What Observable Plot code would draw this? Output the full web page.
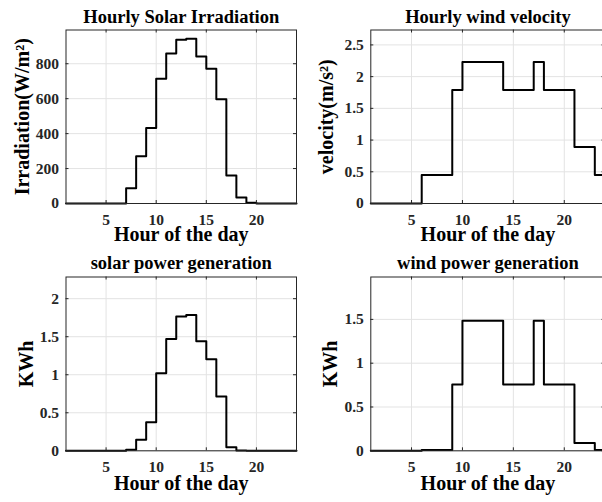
<!DOCTYPE html>
<html><head><meta charset="utf-8">
<script src="https://cdn.jsdelivr.net/npm/d3@7"></script>
<script src="https://cdn.jsdelivr.net/npm/@observablehq/plot@0.6"></script>
<style>
body{margin:0;background:#fff;}
#wrap{position:relative;width:602px;height:502px;overflow:hidden;background:#fff;}
#wrap svg{position:absolute;}
#wrap svg text{font-family:'Liberation Serif','Times New Roman',serif;font-weight:bold;}
</style></head><body><div id="wrap"></div>
<script>
const hours = [1,2,3,4,5,6,7,8,9,10,11,12,13,14,15,16,17,18,19,20,21,22,23,24];
const irradiation = [0,0,0,0,0,0,87,270,432,714,859,937,943,842,771,596,160,34,4,0,0,0,0,0];
const windVelocity = [0,0,0,0,0,0.45,0.45,0.45,1.79,2.23,2.23,2.23,2.23,1.79,1.79,1.79,2.23,1.79,1.79,1.79,0.89,0.89,0.45,0.45];
const solarPower = [0,0,0,0,0,0,0.015,0.145,0.376,1.02,1.47,1.767,1.785,1.44,1.205,0.714,0.047,0.005,0,0,0,0,0,0];
const windPower = [0,0,0,0,0,0.01,0.01,0.01,0.757,1.484,1.484,1.484,1.484,0.757,0.757,0.757,1.484,0.757,0.757,0.757,0.09,0.09,0.01,0.01];

const xTicks = [5,10,15,20];
const yTicksIrr = [0,200,400,600,800];
const yTicksVel = [0,0.5,1,1.5,2,2.5];
const yTicksSolar = [0,0.5,1,1.5,2];
const yTicksWind = [0,0.5,1,1.5];

const titles = ["Hourly Solar Irradiation","Hourly wind velocity","solar power generation","wind power generation"];
const yLabels = ["Irradiation(W/m\u00B2)","velocity(m/s\u00B2)","KWh","KWh"];
const xLabel = "Hour of the day";

const font = "'Liberation Serif','Times New Roman',serif";
const wrap = document.getElementById("wrap");

function panel(o) {
  const data = hours.map((h, i) => ({h, v: o.values[i]}));
  const fw = o.width - o.mL - o.mR, fh = o.height - o.mT - o.mB;
  const gridStroke = "#e3e3e3";
  const chart = Plot.plot({
    width: o.width, height: o.height,
    marginLeft: o.mL, marginRight: o.mR, marginTop: o.mT, marginBottom: o.mB,
    style: {fontFamily: font, fontWeight: "bold", background: "transparent", overflow: "visible"},
    x: {domain: [1, 24]},
    y: {domain: o.yDomain},
    marks: [
      Plot.ruleX(xTicks, {stroke: gridStroke}),
      Plot.ruleY(o.yTicks, {stroke: gridStroke}),
      Plot.line(data, {x: "h", y: "v", curve: "step-after", stroke: "black", strokeWidth: 2}),
      Plot.tickX(xTicks, {x: d => d, insetTop: fh - 3, stroke: "#262626"}),
      Plot.tickX(xTicks, {x: d => d, insetBottom: fh - 3, stroke: "#262626"}),
      Plot.tickY(o.yTicks, {y: d => d, insetRight: fw - 3, stroke: "#262626"}),
      Plot.tickY(o.yTicks, {y: d => d, insetLeft: fw - 3, stroke: "#262626"}),
      Plot.frame({stroke: "#262626"}),
      Plot.axisX(xTicks, {tickSize: 0, tickPadding: 10.5, fontSize: 15.5, fontFamily: font, fontWeight: "bold", color: "#262626", label: null}),
      Plot.axisY(o.yTicks, {tickSize: 0, tickPadding: 7, fontSize: 15.5, fontFamily: font, fontWeight: "bold", color: "#262626", label: null, tickFormat: d => String(d)}),
      Plot.text([o.title], {text: d => d, frameAnchor: "top", textAnchor: "middle", lineAnchor: "middle", dy: o.titleDy, fontSize: 18.5, fontFamily: font, fill: "black", fontWeight: "bold"}),
      Plot.text([xLabel], {text: d => d, frameAnchor: "bottom", textAnchor: "middle", lineAnchor: "middle", dy: o.xlabDy, fontSize: 20, fontFamily: font, fill: "black", fontWeight: "bold"}),
      Plot.text([o.ylabel], {text: d => d, frameAnchor: "left", textAnchor: "middle", lineAnchor: "middle", rotate: -90, dx: o.ylabDx, fontSize: 20, fontFamily: font, fill: "black", fontWeight: "bold"})
    ]
  });
  chart.style.left = o.left + "px";
  chart.style.top = o.top + "px";
  chart.style.maxWidth = "none";
  wrap.appendChild(chart);
}

panel({values: irradiation, yDomain: [0, 993], yTicks: yTicksIrr, title: titles[0], ylabel: yLabels[0],
  left: 0, top: 0, width: 301, height: 250, mL: 65.5, mR: 5, mT: 29.5, mB: 47,
  titleDy: -12.7, xlabDy: 30.6, ylabDx: -43.5});
panel({values: windVelocity, yDomain: [0, 2.735], yTicks: yTicksVel, title: titles[1], ylabel: yLabels[1],
  left: 301, top: 0, width: 320, height: 250, mL: 69.3, mR: 16.5, mT: 29.5, mB: 47,
  titleDy: -12.7, xlabDy: 30.6, ylabDx: -44.7});
panel({values: solarPower, yDomain: [0, 2.285], yTicks: yTicksSolar, title: titles[2], ylabel: yLabels[2],
  left: 0, top: 250, width: 301, height: 252, mL: 65.5, mR: 5, mT: 26.5, mB: 51.7,
  titleDy: -14.1, xlabDy: 32.6, ylabDx: -39.9});
panel({values: windPower, yDomain: [0, 1.984], yTicks: yTicksWind, title: titles[3], ylabel: yLabels[3],
  left: 301, top: 250, width: 320, height: 252, mL: 69.3, mR: 16.5, mT: 26.5, mB: 51.7,
  titleDy: -14.1, xlabDy: 32.6, ylabDx: -40.7});
</script>
</body></html>
